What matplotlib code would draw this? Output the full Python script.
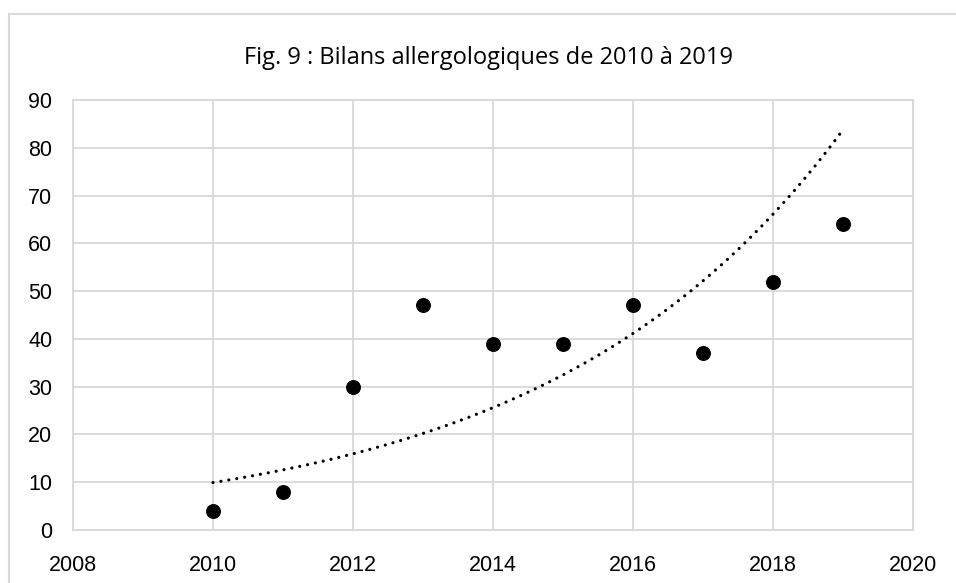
import numpy as np
import matplotlib
matplotlib.use("Agg")
import matplotlib.pyplot as plt
from matplotlib.patches import Rectangle

years = [2010, 2011, 2012, 2013, 2014, 2015, 2016, 2017, 2018, 2019]
values = [4, 8, 30, 47, 39, 39, 47, 37, 52, 64]
title = "Fig. 9 : Bilans allergologiques de 2010 à 2019"

W, H = 956, 583
fig = plt.figure(figsize=(W / 100, H / 100), dpi=100)
fig.patch.set_facecolor("white")

# outer chart border
fig.patches.append(Rectangle((9 / W, -0.05), 2.0, (H - 14) / H + 0.05,
                             transform=fig.transFigure, fill=False,
                             edgecolor="#d9d9d9", linewidth=1.5))

L, R, T, B = 73, 913, 100, 530
ax = fig.add_axes([L / W, 1 - B / H, (R - L) / W, (B - T) / H])
grid_c = "#d9d9d9"
ax.set_xlim(2008, 2020)
ax.set_ylim(0, 90)
ax.set_xticks(np.arange(2008, 2021, 2))
ax.set_yticks(np.arange(0, 91, 10))
ax.grid(True, color=grid_c, linewidth=1.3)
ax.set_axisbelow(True)
for s in ax.spines.values():
    s.set_color(grid_c)
    s.set_linewidth(1.3)
ax.tick_params(length=0, labelsize=15.5, colors="black")
ax.tick_params(axis="x", pad=18)
ax.tick_params(axis="y", pad=15)
for lab in ax.get_xticklabels() + ax.get_yticklabels():
    lab.set_fontfamily("Liberation Sans")

# exponential trendline fitted from data
x = np.array(years, dtype=float)
y = np.array(values, dtype=float)
b, a = np.polyfit(x - 2010, np.log(y), 1)
xt = np.linspace(2010, 2019, 200)
yt = np.exp(a + b * (xt - 2010))
ax.plot(xt, yt, color="black", linewidth=2.3, linestyle=(0, (0.01, 2.5)),
        dash_capstyle="round")

ax.scatter(years, values, s=95, color="black", zorder=3)

fig.text(489 / W, 1 - 64 / H, title, ha="center", va="baseline",
         fontsize=17, fontfamily="Open Sans")

fig.savefig("out.png", dpi=100)
